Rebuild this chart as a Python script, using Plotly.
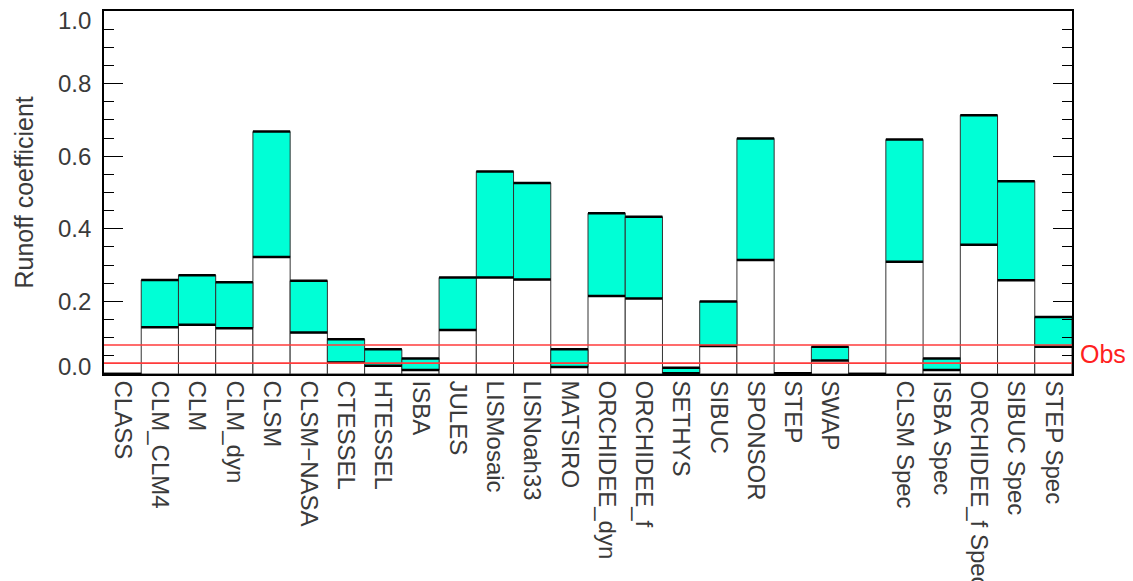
import numpy as np
import plotly.graph_objects as go

models = ["CLASS", "CLM_CLM4", "CLM", "CLM_dyn", "CLSM", "CLSM\u2212NASA", "CTESSEL",
          "HTESSEL", "ISBA", "JULES", "LISMosaic", "LISNoah33", "MATSIRO",
          "ORCHIDEE_dyn", "ORCHIDEE_f", "SETHYS", "SIBUC", "SPONSOR", "STEP", "SWAP",
          "", "CLSM Spec", "ISBA Spec", "ORCHIDEE_f Spec", "SIBUC Spec", "STEP Spec"]
lower = [0.000, 0.129, 0.136, 0.126, 0.322, 0.114, 0.032, 0.023, 0.011, 0.121,
         0.266, 0.260, 0.019, 0.215, 0.208, 0.002, 0.077, 0.314, 0.002, 0.037,
         0.000, 0.309, 0.011, 0.356, 0.258, 0.075]
upper = [0.000, 0.259, 0.272, 0.253, 0.668, 0.257, 0.096, 0.068, 0.043, 0.266,
         0.558, 0.526, 0.068, 0.443, 0.433, 0.017, 0.200, 0.649, 0.002, 0.075,
         0.000, 0.646, 0.043, 0.713, 0.531, 0.157]
obs = [0.03, 0.08]
yticks = [0.0, 0.2, 0.4, 0.6, 0.8, 1.0]

FONT = "Liberation Sans, Arial, sans-serif"
TXT = "#3a3a3a"
CYAN = "#00FFD6"

n = len(models)
x = np.arange(n)
lo = np.array(lower)
up = np.array(upper)

fig = go.Figure()
fig.add_trace(go.Bar(x=x, y=lo, base=0, width=1, marker=dict(color="white", line=dict(color="#333333", width=1)),
                     showlegend=False, hoverinfo="skip"))
fig.add_trace(go.Bar(x=x, y=up - lo, base=lo, width=1, marker=dict(color=CYAN, line=dict(color="#333333", width=1)),
                     showlegend=False, hoverinfo="skip"))

# thick black segments at the top of each bar part
sx, sy = [], []
for i in range(n):
    for v in (lower[i], upper[i]):
        sx += [i - 0.5, i + 0.5, None]
        sy += [v, v, None]
fig.add_trace(go.Scatter(x=sx, y=sy, mode="lines", line=dict(color="black", width=2.5),
                         showlegend=False, hoverinfo="skip", cliponaxis=False))

# observation lines
for o in obs:
    fig.add_trace(go.Scatter(x=[-0.5, n - 0.5], y=[o, o], mode="lines",
                             line=dict(color="#FF3B3B", width=1.6), showlegend=False, hoverinfo="skip"))

fig.update_layout(
    width=1125, height=573,
    margin=dict(l=96, r=61, t=3, b=207, autoexpand=False),
    plot_bgcolor="white", paper_bgcolor="white",
    barmode="overlay",
    font=dict(family=FONT, size=24, color=TXT),
    xaxis=dict(range=[-0.5, n - 0.5], tickmode="array", tickvals=list(x), ticktext=models,
               tickangle=90, ticks="", showline=True, linecolor="black", linewidth=1.5,
               mirror=True, showgrid=False, zeroline=False, automargin=False,
               tickfont=dict(family=FONT, size=24, color=TXT)),
    xaxis2=dict(overlaying="x", range=[-0.5, n - 0.5], tickmode="array",
                tickvals=list(x[:-1] + 0.5), ticks="inside", ticklen=5, tickcolor="#555555",
                showticklabels=False, mirror="ticks", showgrid=False, zeroline=False,
                side="bottom", automargin=False),
    yaxis=dict(range=[0, 1.0], tickmode="array", tickvals=yticks, ticks="inside", ticklen=19,
               tickcolor="black", showticklabels=False, showline=True, linecolor="black",
               linewidth=1.5, mirror="ticks", showgrid=False, zeroline=False, automargin=False,
               minor=dict(dtick=0.05, ticks="inside", ticklen=10, tickcolor="black", showgrid=False)),
)

# y tick labels (kept inside the frame like the original)
for v in yticks:
    shift = 0
    if v == yticks[-1]:
        shift = -9
    elif v == yticks[0]:
        shift = 8
    fig.add_annotation(x=0, xref="paper", y=v, yref="y", text=f"{v:.1f}", showarrow=False,
                       xanchor="right", yanchor="middle", xshift=-11, yshift=shift,
                       font=dict(family=FONT, size=24, color=TXT))

fig.add_annotation(x=0, xref="paper", y=0.5, yref="paper", text="Runoff coefficient",
                   textangle=-90, showarrow=False, xanchor="center", yanchor="middle",
                   xshift=-81, font=dict(family=FONT, size=25, color=TXT))

fig.add_annotation(x=1, xref="paper", y=sum(obs) / 2, yref="y", text="Obs", showarrow=False,
                   xanchor="left", yanchor="middle", xshift=6,
                   font=dict(family=FONT, size=25, color="#FF2020"))

fig.write_html("out.html")
